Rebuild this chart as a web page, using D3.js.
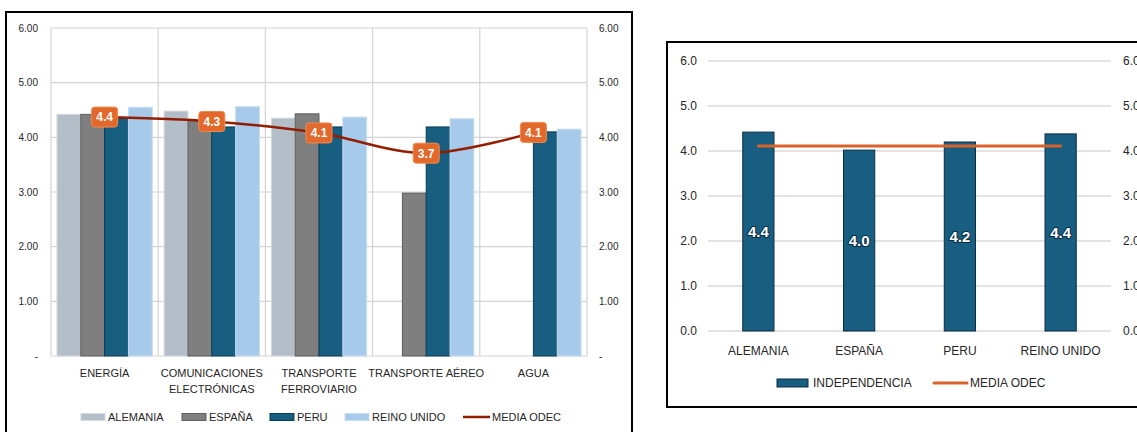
<!DOCTYPE html>
<html>
<head>
<meta charset="utf-8">
<script src="https://cdn.jsdelivr.net/npm/d3@7"></script>
<style>
  body { margin: 0; background: #fff; }
  text { font-family: "Liberation Sans", Arial, sans-serif; fill: #262626; }
</style>
</head>
<body>
<div id="chart"></div>
<script>
// left chart data
const sectors = [["ENERGÍA"], ["COMUNICACIONES", "ELECTRÓNICAS"], ["TRANSPORTE", "FERROVIARIO"], ["TRANSPORTE AÉREO"], ["AGUA"]];
const countries = ["ALEMANIA", "ESPAÑA", "PERU", "REINO UNIDO"];
const alemania = [4.42, 4.48, 4.35, null, null];
const espana = [4.42, 4.30, 4.43, 2.98, null];
const peru = [4.35, 4.19, 4.19, 4.19, 4.10];
const reinoUnido = [4.55, 4.56, 4.37, 4.34, 4.15];
const mediaOdec = [4.37, 4.29, 4.08, 3.71, 4.09];
const leftTicks = [0, 1, 2, 3, 4, 5, 6];

// right chart data
const independencia = [4.42, 4.02, 4.20, 4.38];
const mediaOdecTotal = [4.11, 4.11, 4.11, 4.11];
const rightTicks = [0, 1, 2, 3, 4, 5, 6];

const seriesColors = {
  "ALEMANIA": { fill: "#b4bec9", stroke: "#d3dae1" },
  "ESPAÑA": { fill: "#7f7f7f", stroke: "#5e5e5e" },
  "PERU": { fill: "#175e80", stroke: "#0c3a52" },
  "REINO UNIDO": { fill: "#a7c9ea", stroke: "#c6ddf2" }
};
const seriesValues = [alemania, espana, peru, reinoUnido];

const svg = d3.select("#chart").append("svg")
  .attr("width", 1137)
  .attr("height", 432);

// ---------- LEFT CHART ----------
const left = svg.append("g");
left.append("rect")
  .attr("x", 6).attr("y", 12).attr("width", 626).attr("height", 440)
  .attr("fill", "#fff").attr("stroke", "#000").attr("stroke-width", 2);

const sectorKeys = sectors.map(d => d.join(" "));
const x0 = d3.scaleBand().domain(sectorKeys).range([51, 587]);
const x1 = d3.scaleBand().domain(countries).range([0, x0.bandwidth()]).paddingOuter(0.25);
const yL = d3.scaleLinear().domain([0, 6]).range([356, 28]);

// gridlines
left.append("g").selectAll("line.h")
  .data(leftTicks).enter().append("line")
  .attr("x1", 51).attr("x2", 587)
  .attr("y1", d => yL(d)).attr("y2", d => yL(d))
  .attr("stroke", "#d4d4d4").attr("stroke-width", 1.2);
left.append("g").selectAll("line.v")
  .data(sectorKeys.concat(["end"])).enter().append("line")
  .attr("x1", d => d === "end" ? 587 : x0(d))
  .attr("x2", d => d === "end" ? 587 : x0(d))
  .attr("y1", yL(6)).attr("y2", yL(0))
  .attr("stroke", "#d4d4d4").attr("stroke-width", 1.2);

// axes labels
const fmtL = d => d === 0 ? "-" : d3.format(".2f")(d);
left.append("g").selectAll("text")
  .data(leftTicks).enter().append("text")
  .attr("x", 38).attr("y", d => yL(d)).attr("dy", "0.35em")
  .attr("text-anchor", "end")
  .style("font-size", "10px").text(fmtL);
left.append("g").selectAll("text")
  .data(leftTicks).enter().append("text")
  .attr("x", 599).attr("y", d => yL(d)).attr("dy", "0.35em")
  .attr("text-anchor", "start")
  .style("font-size", "10px").text(fmtL);

// bars
countries.forEach((c, i) => {
  const vals = seriesValues[i];
  left.append("g").selectAll("rect")
    .data(sectorKeys.map((s, j) => ({ s, v: vals[j] })).filter(d => d.v != null))
    .enter().append("rect")
    .attr("x", d => x0(d.s) + x1(c))
    .attr("y", d => yL(d.v))
    .attr("width", x1.bandwidth())
    .attr("height", d => yL(0) - yL(d.v))
    .attr("fill", seriesColors[c].fill)
    .attr("stroke", seriesColors[c].stroke)
    .attr("stroke-width", 1);
});

// media odec line
const lineL = d3.line()
  .x((d, i) => x0(sectorKeys[i]) + x0.bandwidth() / 2)
  .y(d => yL(d))
  .curve(d3.curveCatmullRom.alpha(0.5));
left.append("path")
  .datum(mediaOdec)
  .attr("d", lineL)
  .attr("fill", "none")
  .attr("stroke", "#931d00")
  .attr("stroke-width", 2.5);

const lbl = left.append("g").selectAll("g")
  .data(mediaOdec).enter().append("g")
  .attr("transform", (d, i) => `translate(${x0(sectorKeys[i]) + x0.bandwidth() / 2},${yL(d)})`);
lbl.append("rect")
  .attr("x", -13).attr("y", -10).attr("width", 26).attr("height", 20)
  .attr("rx", 3)
  .attr("fill", "#e2682b").attr("stroke", "#f08a4e").attr("stroke-width", 1);
lbl.append("text")
  .attr("text-anchor", "middle").attr("dy", "0.36em")
  .style("font-weight", "bold").style("font-size", "12px")
  .style("fill", "#fff")
  .text(d => d3.format(".1f")(d));

// category labels
const catG = left.append("g").selectAll("text")
  .data(sectors).enter().append("text")
  .attr("x", (d, i) => x0(sectorKeys[i]) + x0.bandwidth() / 2)
  .attr("y", 373)
  .attr("text-anchor", "middle")
  .style("font-size", "11px");
catG.selectAll("tspan")
  .data(d => d).enter().append("tspan")
  .attr("x", function() { return this.parentNode.getAttribute("x"); })
  .attr("dy", (d, i) => i === 0 ? "0.35em" : "16px")
  .text(d => d);

// legend
const legL = [
  { label: "ALEMANIA", x: 81 },
  { label: "ESPAÑA", x: 182 },
  { label: "PERU", x: 270 },
  { label: "REINO UNIDO", x: 345 }
];
const lg = left.append("g").selectAll("g")
  .data(legL).enter().append("g")
  .attr("transform", d => `translate(${d.x},417)`);
lg.append("rect")
  .attr("x", 0).attr("y", -3.5).attr("width", 24).attr("height", 7)
  .attr("fill", d => seriesColors[d.label].fill)
  .attr("stroke", d => seriesColors[d.label].stroke);
lg.append("text")
  .attr("x", 27).attr("dy", "0.35em")
  .style("font-size", "11px")
  .text(d => d.label);
left.append("line")
  .attr("x1", 463).attr("x2", 490).attr("y1", 417).attr("y2", 417)
  .attr("stroke", "#931d00").attr("stroke-width", 2.5);
left.append("text")
  .attr("x", 492).attr("y", 417).attr("dy", "0.35em")
  .style("font-size", "11px")
  .text("MEDIA ODEC");

// ---------- RIGHT CHART ----------
const right = svg.append("g");
right.append("rect")
  .attr("x", 667).attr("y", 42).attr("width", 500).attr("height", 365)
  .attr("fill", "#fff").attr("stroke", "#000").attr("stroke-width", 2);

const xR = d3.scaleBand().domain(countries).range([708, 1111]).paddingInner(0.69).paddingOuter(0.345);
const yR = d3.scaleLinear().domain([0, 6]).range([331, 61]);

right.append("g").selectAll("line")
  .data(rightTicks).enter().append("line")
  .attr("x1", 708).attr("x2", 1111)
  .attr("y1", d => yR(d)).attr("y2", d => yR(d))
  .attr("stroke", "#c8c8c8").attr("stroke-width", 1.2);

const fmtR = d3.format(".1f");
right.append("g").selectAll("text")
  .data(rightTicks).enter().append("text")
  .attr("x", 697).attr("y", d => yR(d)).attr("dy", "0.35em")
  .attr("text-anchor", "end")
  .style("font-size", "12px").text(fmtR);
right.append("g").selectAll("text")
  .data(rightTicks).enter().append("text")
  .attr("x", 1123).attr("y", d => yR(d)).attr("dy", "0.35em")
  .attr("text-anchor", "start")
  .style("font-size", "12px").text(fmtR);

right.append("g").selectAll("rect")
  .data(independencia).enter().append("rect")
  .attr("x", (d, i) => xR(countries[i]))
  .attr("y", d => yR(d))
  .attr("width", xR.bandwidth())
  .attr("height", d => yR(0) - yR(d))
  .attr("fill", "#175e80")
  .attr("stroke", "#0d2d44").attr("stroke-width", 1);

const lineR = d3.line()
  .x((d, i) => xR(countries[i]) + xR.bandwidth() / 2)
  .y(d => yR(d));
right.append("path")
  .datum(mediaOdecTotal)
  .attr("d", lineR)
  .attr("fill", "none")
  .attr("stroke", "#d9622b")
  .attr("stroke-width", 3)
  .attr("stroke-linecap", "round");

right.append("g").selectAll("text")
  .data(independencia).enter().append("text")
  .attr("x", (d, i) => xR(countries[i]) + xR.bandwidth() / 2)
  .attr("y", d => (yR(d) + yR(0)) / 2)
  .attr("dy", "0.36em")
  .attr("text-anchor", "middle")
  .style("font-weight", "bold").style("font-size", "15px")
  .style("fill", "#fff")
  .style("stroke", "#0d2d44").style("stroke-width", 2)
  .style("paint-order", "stroke")
  .text(d => fmtR(d));

right.append("g").selectAll("text")
  .data(countries).enter().append("text")
  .attr("x", d => xR(d) + xR.bandwidth() / 2)
  .attr("y", 351).attr("dy", "0.35em")
  .attr("text-anchor", "middle")
  .style("font-size", "12px")
  .text(d => d);

right.append("rect")
  .attr("x", 777).attr("y", 379).attr("width", 31).attr("height", 8)
  .attr("fill", "#175e80").attr("stroke", "#0d2d44");
right.append("text")
  .attr("x", 813).attr("y", 383).attr("dy", "0.35em")
  .style("font-size", "12px").text("INDEPENDENCIA");
right.append("line")
  .attr("x1", 934).attr("x2", 967).attr("y1", 383).attr("y2", 383)
  .attr("stroke", "#d9622b").attr("stroke-width", 3).attr("stroke-linecap", "round");
right.append("text")
  .attr("x", 970).attr("y", 383).attr("dy", "0.35em")
  .style("font-size", "12px").text("MEDIA ODEC");
</script>
</body>
</html>
